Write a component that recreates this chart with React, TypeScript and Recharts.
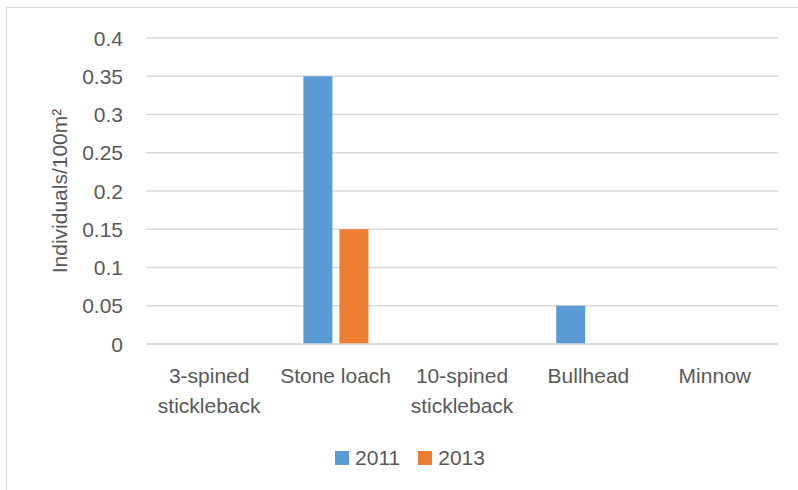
import { BarChart, Bar, XAxis, YAxis, CartesianGrid, Text } from "recharts"

const SPECIES = [
  "3-spined stickleback",
  "Stone loach",
  "10-spined stickleback",
  "Bullhead",
  "Minnow",
]
const Y2011 = [0, 0.35, 0, 0.05, 0]
const Y2013 = [0, 0.15, 0, 0, 0]
const Y_TICKS = [0, 0.05, 0.1, 0.15, 0.2, 0.25, 0.3, 0.35, 0.4]

const SERIES = [
  { key: "2011", color: "#5b9bd5" },
  { key: "2013", color: "#ed7d31" },
]

const data = SPECIES.map((name, i) => ({
  name,
  "2011": Y2011[i],
  "2013": Y2013[i],
}))

const FONT = "'Liberation Sans', Arial, sans-serif"
const TEXT = "#595959"
const GRID = "#d9d9d9"

function SpeciesTick(props: any) {
  const { x, y, payload } = props
  return (
    <Text
      x={x}
      y={y + 24}
      width={118}
      textAnchor="middle"
      verticalAnchor="start"
      lineHeight={30}
      fill={TEXT}
      fontSize={21}
      fontFamily={FONT}
    >
      {payload.value}
    </Text>
  )
}

function ValueTick(props: any) {
  const { x, y, payload } = props
  return (
    <text
      x={x}
      y={y}
      dy="0.36em"
      textAnchor="end"
      fill={TEXT}
      fontSize={21}
      fontFamily={FONT}
    >
      {String(payload.value)}
    </text>
  )
}

function AxisTitle(props: any) {
  const { viewBox } = props
  const cx = 59
  const cy = viewBox.y + viewBox.height / 2
  return (
    <text
      x={cx}
      y={cy}
      dy="0.36em"
      transform={`rotate(-90 ${cx} ${cy})`}
      textAnchor="middle"
      fill={TEXT}
      fontSize={21}
      fontFamily={FONT}
    >
      Individuals/100m²
    </text>
  )
}

function YearLegend() {
  return (
    <div
      style={{
        position: "absolute",
        left: 6,
        top: 446,
        width: 808,
        display: "flex",
        justifyContent: "center",
        alignItems: "center",
        fontFamily: FONT,
        fontSize: 21,
        color: TEXT,
      }}
    >
      {SERIES.map((s, i) => (
        <div
          key={s.key}
          style={{ display: "flex", alignItems: "center", marginLeft: i ? 18 : 0 }}
        >
          <span
            style={{ width: 14, height: 14, background: s.color, marginRight: 6 }}
          />
          <span>{s.key}</span>
        </div>
      ))}
    </div>
  )
}

export default function App() {
  return (
    <div
      style={{
        position: "absolute",
        left: 0,
        top: 0,
        width: 798,
        height: 490,
        overflow: "hidden",
        background: "#fff",
        fontFamily: FONT,
      }}
    >
      <div
        style={{
          position: "absolute",
          left: 6,
          top: 7,
          width: 840,
          height: 560,
          border: `1px solid ${GRID}`,
        }}
      />
      {/* x axis band is 30px tall, plot runs from y=38 down to y≈344 */}
      <BarChart
        width={798}
        height={490}
        data={data}
        margin={{ top: 38, right: 20, bottom: 116, left: 0 }}
        barSize={29}
        barGap={7}
      >
        <CartesianGrid vertical={false} stroke={GRID} strokeWidth={1.3} />
        <XAxis
          dataKey="name"
          axisLine={{ stroke: GRID, strokeWidth: 1.3 }}
          tickLine={false}
          tickSize={0}
          tickMargin={0}
          interval={0}
          tick={<SpeciesTick />}
        />
        <YAxis
          width={146}
          domain={[0, 0.4]}
          ticks={Y_TICKS}
          axisLine={false}
          tickLine={false}
          tickSize={0}
          tickMargin={23}
          tick={<ValueTick />}
          label={<AxisTitle />}
        />
        {SERIES.map((s) => (
          <Bar
            key={s.key}
            dataKey={s.key}
            fill={s.color}
            isAnimationActive={false}
          />
        ))}
      </BarChart>
      <YearLegend />
    </div>
  )
}
